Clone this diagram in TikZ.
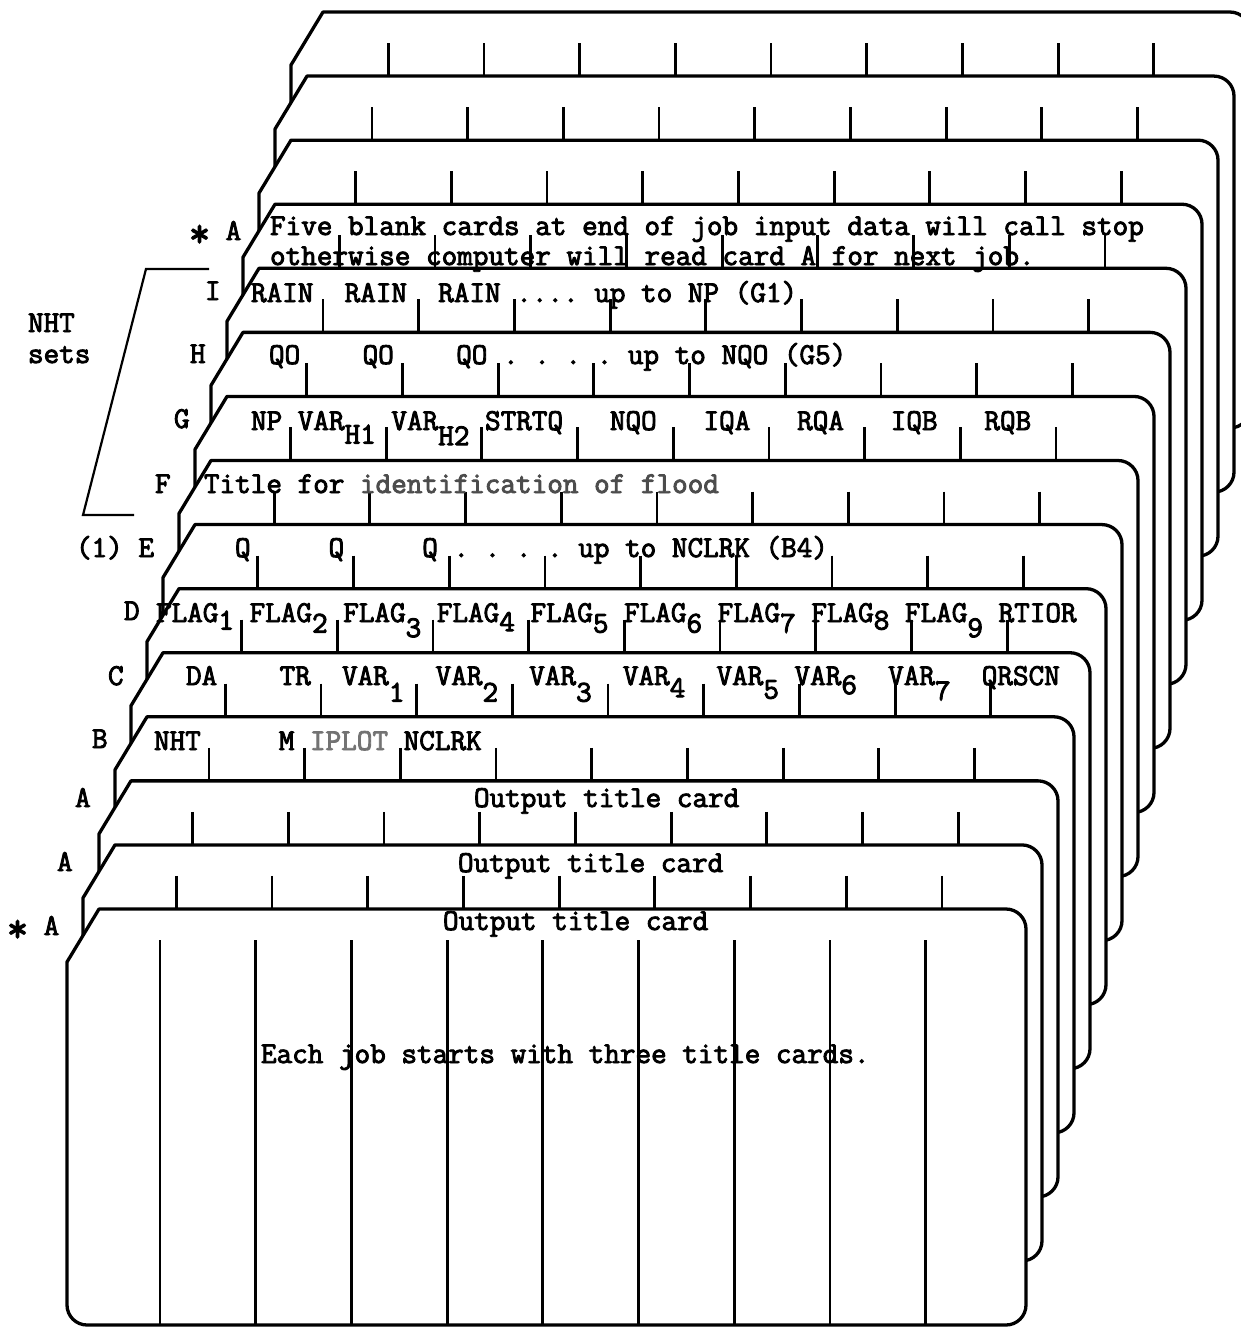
\documentclass[tikz,border=0pt]{standalone}
\usepackage{fontspec}
\newfontfamily\tw[FakeBold=3]{Latin Modern Mono}
\newcommand{\dn}[2]{\raisebox{-#1}{#2}}
\newcommand{\myast}{\raisebox{-0.22em}{\scalebox{1.35}{*}}}
\begin{document}
\begin{tikzpicture}[x=1pt,y=-1pt,
  card/.style={fill=white,draw=black,line width=3.3pt,line join=round},
  tick/.style={draw=black,line width=2.8pt},
  txt/.style={anchor=base west,inner sep=0pt,outer sep=0pt,font=\tw\fontsize{30.3}{36}\selectfont},
  brk/.style={draw=black,line width=2.2pt}]
\useasboundingbox (0,0) rectangle (1240,1327);
\fill[white] (0,0) rectangle (1240,1327);
% cards, back (k=14) to front (k=0)
\foreach \k in {14,13,...,0}{
  \pgfmathsetmacro\L{67+16*\k}
  \pgfmathsetmacro\R{1026+16*\k}
  \pgfmathsetmacro\T{909-64.07*\k}
  \pgfmathsetmacro\B{\T+416}
  \pgfmathsetmacro\X{160+16.3*\k}
  \draw[card] (\L+32,\T) -- (\R-20,\T) .. controls (\R-9,\T) and (\R,\T+9) .. (\R,\T+20)
     -- (\R,\B-20) .. controls (\R,\B-9) and (\R-9,\B) .. (\R-20,\B)
     -- (\L+20,\B) .. controls (\L+9,\B) and (\L,\B-9) .. (\L,\B-20)
     -- (\L,\T+53) -- cycle;
  \foreach \j in {0,...,8}{
    \draw[tick] ({\X+95.7*\j},\T+31) -- ({\X+95.7*\j},\B);
  }
}
% labels on the left
\node[txt] (l4) at (189,240) {\myast~A};
\node[txt] (l5) at (205,300) {I};
\node[txt] (l6) at (190,363) {H};
\node[txt] (l7) at (174,428) {G};
\node[txt] (l8) at (155,493) {F};
\node[txt] (l9) at (76,557) {(1)~E};
\node[txt] (l10) at (124,620) {D};
\node[txt] (l11) at (108,685) {C};
\node[txt] (l12) at (92,748) {B};
\node[txt] (l13) at (75,807) {A};
\node[txt] (l14) at (57,871) {A};
\node[txt] (l15) at (7,935) {\myast~A};
\node[txt] (nht) at (28,332) {NHT};
\node[txt] (sets) at (28,363) {sets};
\coordinate (b1) at (209,269);
\coordinate (b2) at (146,269);
\coordinate (b3) at (83,515);
\coordinate (b4) at (134,515);
\draw[brk] (b1) -- (b2) -- (b3) -- (b4);
% card texts
\node[txt] (a1) at (270,235) {Five~blank~cards~at~end~of~job~input~data~will~call~stop};
\node[txt] (a2) at (270,265) {otherwise~computer~will~read~card~A~for~next~job.};
\node[txt] (ci) at (251,302) {RAIN~~RAIN~~RAIN~....~up~to~NP~(G1)};
\node[txt] (ch) at (269,364) {QO~~~~QO~~~~QO~.~.~.~.~up~to~NQO~(G5)};
\node[txt] (cg) at (251,430) {NP~VAR\dn{.45em}{H1}~VAR\dn{.5em}{H2}~STRTQ~~~NQO~~~IQA~~~RQA~~~IQB~~~RQB};
\node[txt] (cf) at (204,493) {Title~for~\textcolor{black!70}{identification~of~flood}};
\node[txt] (ce) at (235,557) {Q~~~~~Q~~~~~Q~.~.~.~.~up~to~NCLRK~(B4)};
\node[txt] (cd) at (156,622) {FLAG\dn{.25em}{1}~FLAG\dn{.35em}{2}~FLAG\dn{.5em}{3}~FLAG\dn{.3em}{4}~FLAG\dn{.35em}{5}~FLAG\dn{.35em}{6}~FLAG\dn{.35em}{7}~FLAG\dn{.25em}{8}~FLAG\dn{.5em}{9}~RTIOR};
\node[txt] (cc) at (186,685) {DA~~~~TR~~VAR\dn{.55em}{1}~~VAR\dn{.55em}{2}~~VAR\dn{.55em}{3}~~VAR\dn{.4em}{4}~~VAR\dn{.45em}{5}~VAR\dn{.3em}{6}~~VAR\dn{.5em}{7}~~QRSCN};
\node[txt] (cb) at (154,750) {NHT~~~~~M~\textcolor{black!55}{IPLOT}~NCLRK};
\node[txt] (o13) at (474,807) {Output~title~card};
\node[txt] (o14) at (458,872) {Output~title~card};
\node[txt] (o15) at (443,930) {Output~title~card};
\node[txt] (each) at (261,1063) {Each~job~starts~with~three~title~cards.};
\end{tikzpicture}
\end{document}
